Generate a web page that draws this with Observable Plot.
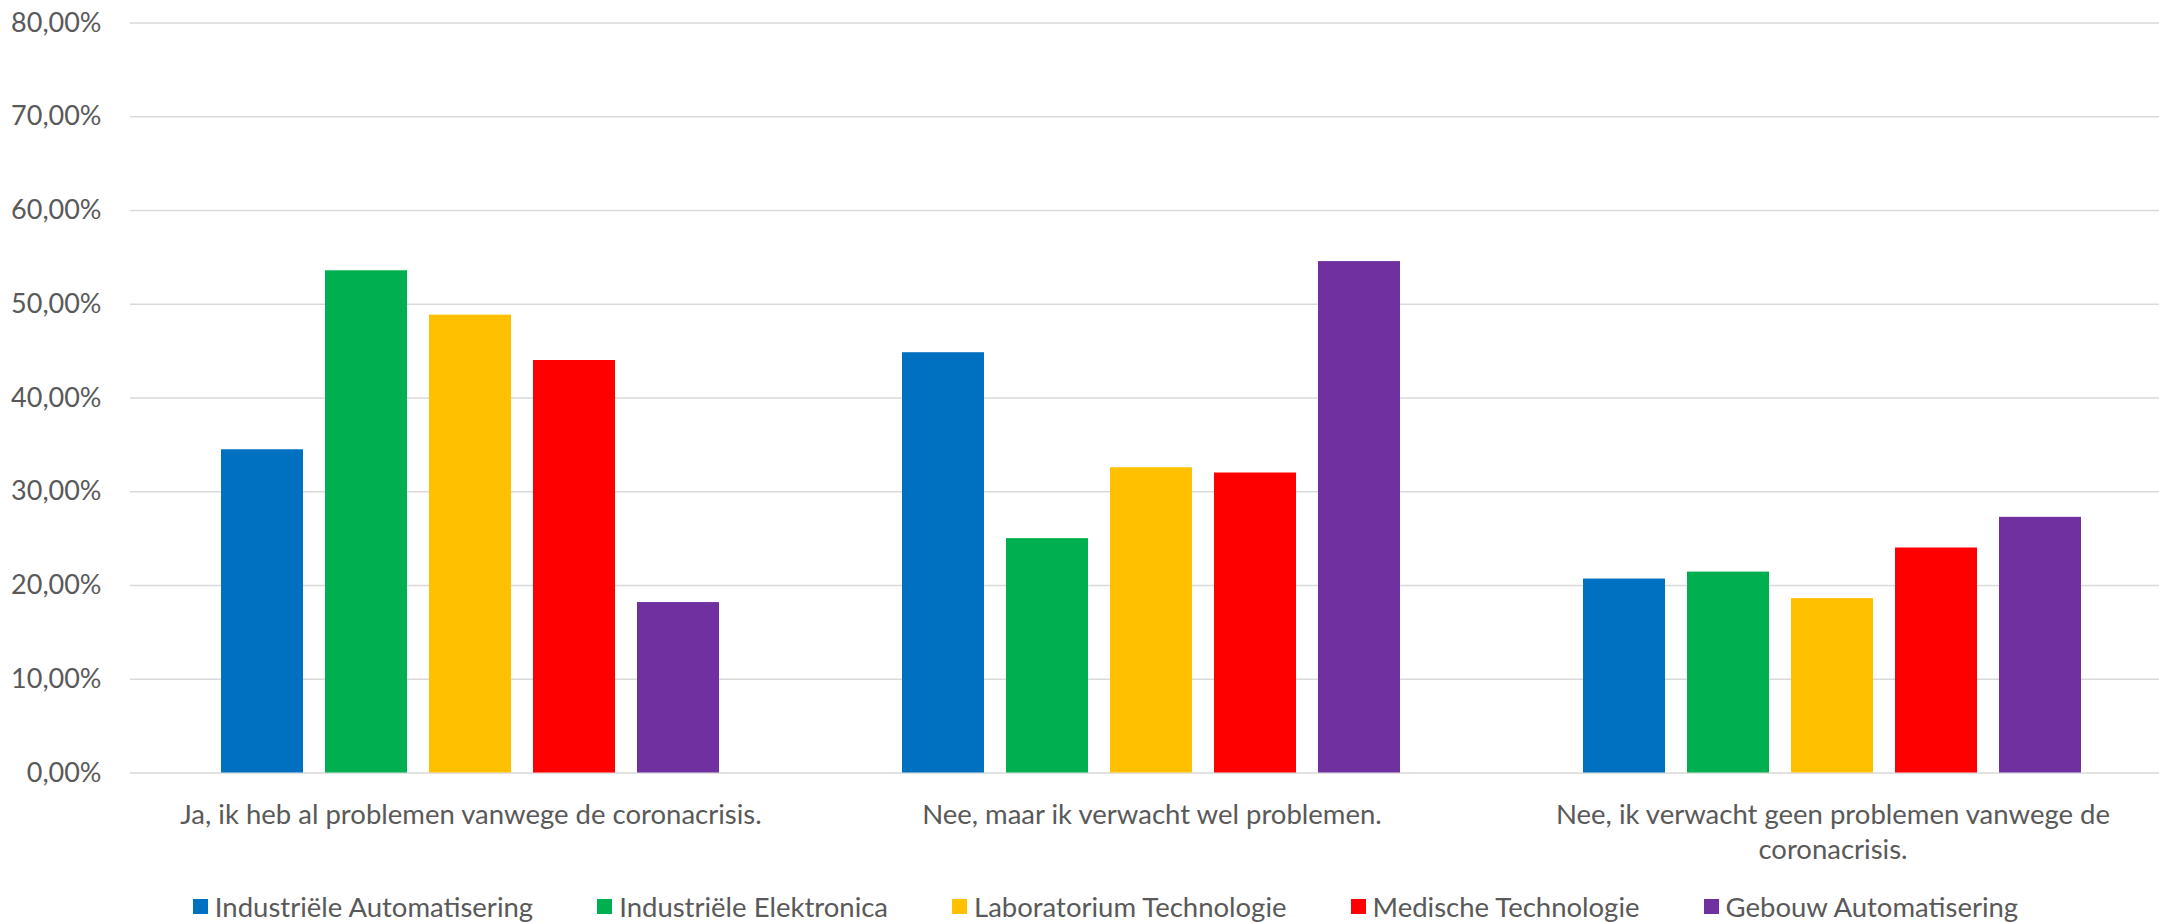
<!DOCTYPE html>
<html>
<head>
<meta charset="utf-8">
<script src="https://cdn.jsdelivr.net/npm/d3@7"></script>
<script src="https://cdn.jsdelivr.net/npm/@observablehq/plot@0.6"></script>
<style>
  html, body { margin: 0; padding: 0; background: #fff; overflow: hidden; }
  #legend { display: flex; justify-content: center; align-items: center; height: 47px; box-sizing: border-box;
    padding-left: 52px; padding-top: 15px; font-family: Lato, sans-serif; font-size: 27.5px; color: #595959; gap: 64px; }
  .item { display: flex; align-items: center; gap: 7px; white-space: nowrap; }
  .sw { width: 15px; height: 15px; display: inline-block; }
</style>
</head>
<body>
<div id="chart"></div>
<div id="legend"></div>
<script>
const categories = [
  "Ja, ik heb al problemen vanwege de coronacrisis.",
  "Nee, maar ik verwacht wel problemen.",
  "Nee, ik verwacht geen problemen vanwege de coronacrisis."
];
const series = [
  "Industriële Automatisering",
  "Industriële Elektronica",
  "Laboratorium Technologie",
  "Medische Technologie",
  "Gebouw Automatisering"
];
const colors = ["#0070C0", "#00B050", "#FFC000", "#FF0000", "#7030A0"];
// values in percent, one array per series, in category order
const industrieleAutomatisering = [34.48, 44.83, 20.69];
const industrieleElektronica   = [53.57, 25.00, 21.43];
const laboratoriumTechnologie  = [48.84, 32.56, 18.60];
const medischeTechnologie      = [44.00, 32.00, 24.00];
const gebouwAutomatisering     = [18.18, 54.55, 27.27];
const seriesValues = [industrieleAutomatisering, industrieleElektronica, laboratoriumTechnologie, medischeTechnologie, gebouwAutomatisering];
const yTicks = [0, 10, 20, 30, 40, 50, 60, 70, 80];

const data = [];
categories.forEach((c, ci) => series.forEach((s, si) => data.push({category: c, series: s, value: seriesValues[si][ci]})));

const FONT = "Lato, sans-serif";
const FS = 27.5;
const ctx = document.createElement("canvas").getContext("2d");
ctx.font = `${FS}px Lato`;
function wrap(text, maxWidth = 640) {
  const words = text.split(" ");
  const lines = [];
  let line = "";
  for (const w of words) {
    const t = line ? line + " " + w : w;
    if (ctx.measureText(t).width > maxWidth && line) { lines.push(line); line = w; }
    else line = t;
  }
  if (line) lines.push(line);
  return lines.join("\n");
}
const fmt = d => d.toFixed(2).replace(".", ",") + "%";

const chart = Plot.plot({
  width: 2159,
  height: 875,
  marginTop: 22.5,
  marginBottom: 102.5,
  marginLeft: 129,
  marginRight: -15,
  style: {fontFamily: FONT, fontSize: FS + "px", color: "#595959", background: "#fff"},
  fx: {domain: categories, padding: 0, axis: null, label: null},
  x: {domain: series, paddingInner: 0.21, paddingOuter: 0.863, axis: null, label: null},
  y: {domain: [0, 80], axis: null, label: null},
  color: {domain: series, range: colors},
  marks: [
    Plot.gridY(yTicks, {stroke: "#d9d9d9", strokeOpacity: 1, strokeWidth: 1.5}),
    Plot.barY(data, {fx: "category", x: "series", y: "value", fill: "series"}),
    Plot.axisY(yTicks, {tickSize: 0, tickPadding: 29, tickFormat: fmt, fontSize: 27, label: null}),
    Plot.axisFx({anchor: "bottom", tickSize: 0, tickPadding: 27, lineHeight: 1.25, tickFormat: d => wrap(d), fontSize: FS, label: null})
  ]
});
document.getElementById("chart").appendChild(chart);

const legend = document.getElementById("legend");
series.forEach((s, i) => {
  const item = document.createElement("div");
  item.className = "item";
  const sw = document.createElement("span");
  sw.className = "sw";
  sw.style.background = colors[i];
  const label = document.createElement("span");
  label.textContent = s;
  item.appendChild(sw);
  item.appendChild(label);
  legend.appendChild(item);
});
</script>
</body>
</html>
